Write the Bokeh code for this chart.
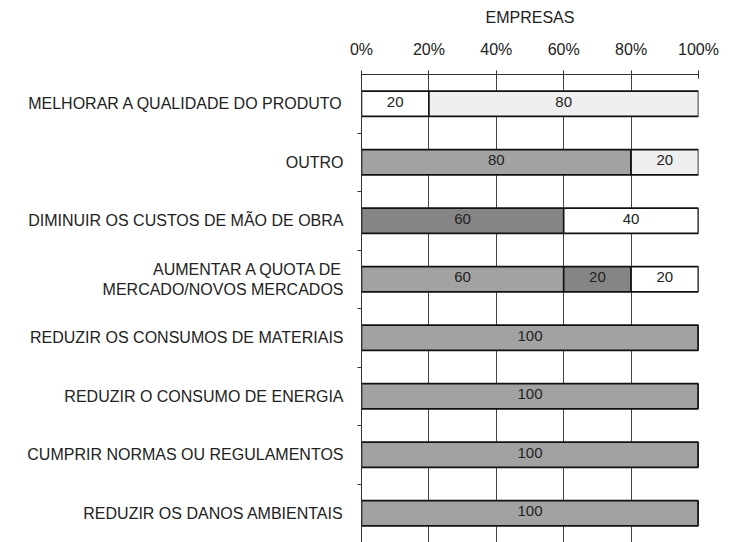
from bokeh.plotting import figure
from bokeh.models import Range1d, FixedTicker, PrintfTickFormatter, ColumnDataSource
from bokeh.core.properties import value
from bokeh.embed import file_html
from bokeh.resources import INLINE

categories = [
    "MELHORAR A QUALIDADE DO PRODUTO",
    "OUTRO",
    "DIMINUIR OS CUSTOS DE MÃO DE OBRA",
    "AUMENTAR A QUOTA DE\nMERCADO/NOVOS MERCADOS",
    "REDUZIR OS CONSUMOS DE MATERIAIS",
    "REDUZIR O CONSUMO DE ENERGIA",
    "CUMPRIR NORMAS OU REGULAMENTOS",
    "REDUZIR OS DANOS AMBIENTAIS",
]
# stacked segments (percent of companies), in stacking order left -> right
seg_medium = [0, 80, 0, 60, 100, 100, 100, 100]
seg_dark = [0, 0, 60, 20, 0, 0, 0, 0]
seg_white = [20, 0, 40, 20, 0, 0, 0, 0]
seg_light = [80, 20, 0, 0, 0, 0, 0, 0]
x_ticks = [0, 20, 40, 60, 80, 100]

series = ["seg_medium", "seg_dark", "seg_white", "seg_light"]
series_values = [seg_medium, seg_dark, seg_white, seg_light]
colors = ["#a2a2a2", "#858585", "#ffffff", "#efefef"]

n = len(categories)
ypos = list(range(n))

src = ColumnDataSource(dict(y=ypos, **{s: v for s, v in zip(series, series_values)}))

p = figure(width=728, height=542, output_backend="svg", toolbar_location=None,
           x_range=Range1d(0, 100), y_range=Range1d(n - 0.5, -0.5),
           x_axis_location="above", min_border_left=361, min_border_right=30,
           min_border_top=74, min_border_bottom=0)
p.outline_line_color = None
p.background_fill_color = "white"

FONT = "Liberation Sans"

p.hbar_stack(series, y="y", height=0.43, color=colors, line_color="#111111",
             line_width=1.6, source=src)

# value labels
lx, ly, lt = [], [], []
for i in range(n):
    cum = 0
    for vals in series_values:
        v = vals[i]
        if v > 0:
            lx.append(cum + v / 2)
            ly.append(i)
            lt.append(str(v))
        cum += v
p.text(x=lx, y=ly, text=lt, text_align="center", text_baseline="middle",
       text_font=value(FONT), text_font_size="15px", text_color="#222222", y_offset=-2)

# x axis (top)
xa = p.xaxis[0]
xa.ticker = FixedTicker(ticks=x_ticks)
xa.formatter = PrintfTickFormatter(format="%d%%")
xa.axis_label = "EMPRESAS"
xa.axis_label_text_font = FONT
xa.axis_label_text_font_style = "normal"
xa.axis_label_text_font_size = "16px"
xa.axis_label_text_color = "#222222"
xa.axis_label_standoff = 12
xa.major_label_text_font = FONT
xa.major_label_text_font_size = "16px"
xa.major_label_text_color = "#222222"
xa.major_label_standoff = 13
xa.major_tick_in = 4
xa.major_tick_out = 4
xa.minor_tick_line_color = None
xa.axis_line_color = "#333333"
xa.major_tick_line_color = "#333333"

# y axis (left)
ya = p.yaxis[0]
ya.ticker = FixedTicker(ticks=ypos, minor_ticks=[i + 0.5 for i in ypos])
ya.major_label_overrides = {i: c for i, c in zip(ypos, categories)}
ya.major_label_text_font = FONT
ya.major_label_text_font_size = "16px"
ya.major_label_text_color = "#222222"
ya.major_label_standoff = 14
ya.major_tick_line_color = None
ya.major_tick_in = 0
ya.major_tick_out = 0
ya.minor_tick_in = 0
ya.minor_tick_out = 4
ya.minor_tick_line_color = "#333333"
ya.axis_line_color = "#333333"

p.xgrid.ticker = FixedTicker(ticks=x_ticks)
p.xgrid.grid_line_color = "#444444"
p.xgrid.grid_line_width = 1
p.ygrid.grid_line_color = None

open("out.html", "w").write(file_html(p, INLINE))
